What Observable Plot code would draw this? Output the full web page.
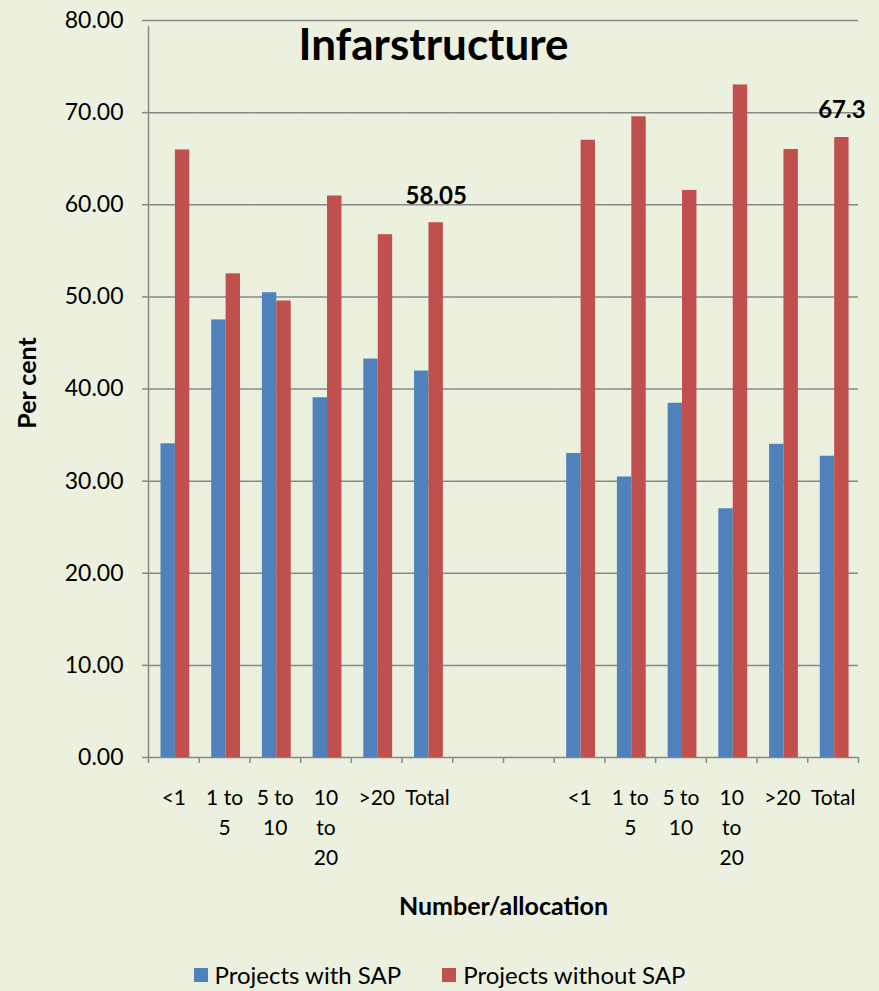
<!DOCTYPE html>
<html>
<head>
<meta charset="utf-8">
<script src="https://cdn.jsdelivr.net/npm/d3@7"></script>
<script src="https://cdn.jsdelivr.net/npm/@observablehq/plot@0.6"></script>
<style>
  html, body { margin: 0; padding: 0; background: #EBF1DE; overflow: hidden; }
  #chart svg { display: block; }
  #legend { height: 51px; box-sizing: border-box; padding-top: 18px; }
  .lg-swatches { justify-content: center; display: flex; margin: 0 !important; }
  .lg-swatch { margin-right: 41px !important; }
  .lg-swatch:last-child { margin-right: 0 !important; }
  .lg-swatch svg { margin-right: 7px !important; }
</style>
</head>
<body>
<div id="chart"></div>
<div id="legend"></div>
<script>
// ---- data ----
const title = "Infarstructure";
const categories = ["<1", "1 to 5", "5 to 10", "10 to 20", ">20", "Total"];
const tickLabels = ["<1", "1 to\n5", "5 to\n10", "10\nto\n20", ">20", "Total"];
const groups = ["A", "B"];
const gapSlots = ["gap1", "gap2"];
const series = ["Projects with SAP", "Projects without SAP"];
const colors = ["#4F81BD", "#C0504D"];
const withSAP_A    = [34.05, 47.5, 50.45, 39.05, 43.25, 41.95];
const withoutSAP_A = [65.95, 52.5, 49.55, 60.95, 56.75, 58.05];
const withSAP_B    = [33.0, 30.45, 38.45, 27.0, 34.0, 32.7];
const withoutSAP_B = [67.0, 69.55, 61.55, 73.0, 66.0, 67.3];
const yTicks = [0, 10, 20, 30, 40, 50, 60, 70, 80];
const labelledTotals = {A: "58.05", B: "67.3"};
const xTitle = "Number/allocation";
const yTitle = "Per cent";

// ---- build table ----
const valuesBy = {A: [withSAP_A, withoutSAP_A], B: [withSAP_B, withoutSAP_B]};
const slotKey = (g, c) => g + "|" + c;
const slots = [
  ...categories.map(c => slotKey("A", c)),
  ...gapSlots,
  ...categories.map(c => slotKey("B", c))
];
const slotLabel = new Map();
for (const g of groups) categories.forEach((c, i) => slotLabel.set(slotKey(g, c), tickLabels[i]));
for (const s of gapSlots) slotLabel.set(s, "");

const rows = [];
for (const g of groups) {
  categories.forEach((c, i) => {
    series.forEach((s, j) => {
      rows.push({slot: slotKey(g, c), group: g, category: c, series: s, value: valuesBy[g][j][i]});
    });
  });
}
const labelRows = rows.filter(d => d.category === "Total" && d.series === series[1])
  .map(d => ({...d, label: labelledTotals[d.group]}));

// ---- layout ----
const W = 879, H = 940;
const mL = 148, mR = 21, mT = 20, mB = H - 757;
const step = (W - mL - mR) / slots.length;
const gridColor = "#878787";
const font = "Lato";

const chart = Plot.plot({
  width: W,
  height: H,
  marginLeft: mL,
  marginRight: mR,
  marginTop: mT,
  marginBottom: mB,
  style: {background: "#EBF1DE", fontFamily: font, color: "#000", overflow: "visible"},
  fx: {domain: slots, padding: 0, round: false, axis: null},
  x: {domain: series, paddingInner: 0, paddingOuter: 0.76, align: 0.57, round: false, axis: null},
  y: {domain: [0, 80], axis: null},
  color: {domain: series, range: colors},
  marks: [
    Plot.gridY(yTicks, {stroke: gridColor, strokeOpacity: 1, strokeWidth: 1.5}),
    // category boundary tick marks
    Plot.ruleX(slots, {fx: d => d, x: null, y1: 0, y2: 0, insetBottom: -6, dx: -step / 2, stroke: gridColor, strokeWidth: 1.5}),
    Plot.ruleX(slots.slice(-1), {fx: d => d, x: null, y1: 0, y2: 0, insetBottom: -6, dx: step / 2, stroke: gridColor, strokeWidth: 1.5}),
    // vertical axis line
    Plot.ruleX(slots.slice(0, 1), {fx: d => d, x: null, y1: 0, y2: 80, insetBottom: -6, dx: -step / 2, stroke: gridColor, strokeWidth: 1.5}),
    Plot.barY(rows, {fx: "slot", x: "series", y: "value", fill: "series"}),
    Plot.text(labelRows, {fx: "slot", x: "series", y: "value", text: "label", dy: -19, lineAnchor: "bottom",
      fontSize: 24, fontWeight: "bold", fill: "#000"}),
    Plot.axisY(yTicks, {tickFormat: d3.format(".2f"), tickSize: 6, tickPadding: 19, stroke: gridColor,
      strokeWidth: 1.5, fontSize: 23, label: null, fill: "#000"}),
    Plot.axisFx({anchor: "bottom", tickSize: 0, tickPadding: 26, tickFormat: k => slotLabel.get(k),
      fontSize: 21, lineHeight: 1.43, label: null, fill: "#000"}),
    Plot.text([title], {facet: "super", frameAnchor: "top", dx: -70, dy: 25, lineAnchor: "middle",
      fontSize: 44, fontWeight: "bold", fill: "#000"}),
    Plot.text([xTitle], {facet: "super", frameAnchor: "bottom", dy: 149, lineAnchor: "middle",
      fontSize: 25, fontWeight: "bold", fill: "#000"}),
    Plot.text([yTitle], {facet: "super", frameAnchor: "left", dx: -121, dy: -6, rotate: -90,
      textAnchor: "middle", lineAnchor: "middle", fontSize: 25, fontWeight: "bold", fill: "#000"})
  ]
});
document.getElementById("chart").appendChild(chart);

const legend = Plot.legend({
  color: {domain: series, range: colors},
  legend: "swatches",
  swatchSize: 14,
  className: "lg",
  style: {fontFamily: font, fontSize: "24px", color: "#000", background: "transparent"}
});
document.getElementById("legend").appendChild(legend);
</script>
</body>
</html>
